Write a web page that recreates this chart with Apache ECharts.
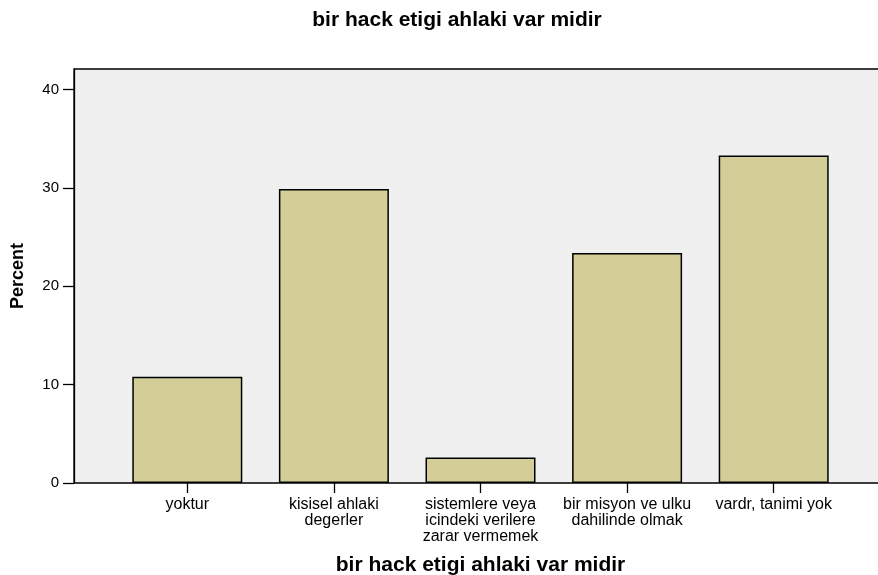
<!DOCTYPE html>
<html>
<head>
<meta charset="utf-8">
<title>bir hack etigi ahlaki var midir</title>
<script src="https://cdn.jsdelivr.net/npm/echarts@6/dist/echarts.min.js"></script>
<style>
    html, body { margin: 0; padding: 0; background: #fff; }
    #chartContainer { width: 878px; height: 575px; }
</style>
</head>
<body>
<div id="chartContainer"></div>
<script>
// 数据
const categories = [
    'yoktur',
    'kisisel ahlaki\ndegerler',
    'sistemlere veya\nicindeki verilere\nzarar vermemek',
    'bir misyon ve ulku\ndahilinde olmak',
    'vardr, tanimi yok'
];
const percentValues = [10.8, 29.9, 2.6, 23.4, 33.3];
const yTicks = [0, 10, 20, 30, 40];

const FONT = '"Liberation Sans", Arial, sans-serif';
const Y_MAX = 42.1;

const chart = echarts.init(document.getElementById('chartContainer'));

const option = {
    animation: false,
    title: {
        text: 'bir hack etigi ahlaki var midir',
        left: 452,
        top: 5,
        textAlign: 'center',
        textStyle: { fontFamily: FONT, fontSize: 21, fontWeight: 'bold', color: '#000' }
    },
    grid: [
        // 背景框
        { left: 74, top: 69, right: -20, bottom: 92, show: true, containLabel: false, outerBoundsMode: 'none',
          backgroundColor: '#f0f0f0', borderColor: '#000', borderWidth: 1.3 },
        // 柱子区域
        { left: 114, top: 69, width: 733, bottom: 92, containLabel: false, outerBoundsMode: 'none' }
    ],
    xAxis: [
        { gridIndex: 0, type: 'value', show: false, min: 0, max: 1 },
        {
            gridIndex: 1,
            type: 'category',
            data: categories,
            axisLine: { show: false },
            axisTick: { show: true, interval: 0, alignWithLabel: true, length: 10, lineStyle: { color: '#000', width: 1.3 } },
            axisLabel: { interval: 0, margin: 14, fontFamily: FONT, fontSize: 16, lineHeight: 16, color: '#000' },
            name: 'bir hack etigi ahlaki var midir',
            nameLocation: 'middle',
            nameGap: 72,
            nameTextStyle: { fontFamily: FONT, fontSize: 21, fontWeight: 'bold', color: '#000' }
        }
    ],
    yAxis: [
        {
            gridIndex: 0,
            type: 'value',
            min: 0,
            max: Y_MAX,
            interval: 10,
            splitLine: { show: false },
            axisLine: { show: true, lineStyle: { color: '#000', width: 1.3 } },
            axisTick: { show: true, length: 11, customValues: yTicks, lineStyle: { color: '#000', width: 1.3 } },
            axisLabel: { customValues: yTicks, margin: 15, fontFamily: FONT, fontSize: 15, color: '#000' },
            name: 'Percent',
            nameLocation: 'middle',
            nameGap: 47,
            nameRotate: 90,
            nameTextStyle: { fontFamily: FONT, fontSize: 18, fontWeight: 'bold', color: '#000' }
        },
        { gridIndex: 1, type: 'value', show: false, min: 0, max: Y_MAX }
    ],
    series: [
        {
            type: 'bar',
            xAxisIndex: 1,
            yAxisIndex: 1,
            data: percentValues,
            barWidth: 110,
            itemStyle: { color: '#d3ce98', borderColor: '#000', borderWidth: 1.5 }
        }
    ]
};

chart.setOption(option);
</script>
</body>
</html>
